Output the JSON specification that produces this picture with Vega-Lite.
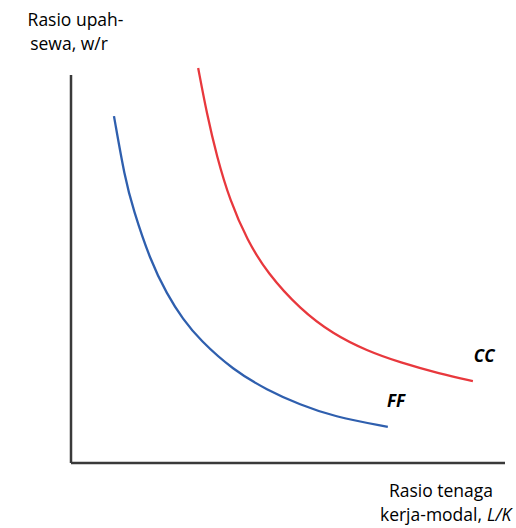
{
  "$schema": "https://vega.github.io/schema/vega-lite/v6.json",
  "width": 434,
  "height": 388,
  "autosize": {"type": "none"},
  "padding": {"left": 71, "top": 75, "right": 11, "bottom": 65},
  "background": "white",
  "config": {"view": {"stroke": null}, "text": {"font": "Open Sans"}},
  "layer": [
    {
      "data": {"values": [
        {"x": 0, "y": 0, "x2": 0, "y2": 10},
        {"x": 0, "y": 0, "x2": 10, "y2": 0}
      ]},
      "mark": {"type": "rule", "color": "#3a3a3a", "strokeWidth": 2.5},
      "encoding": {
        "x": {"field": "x", "type": "quantitative", "scale": {"domain": [0, 10]}, "axis": null},
        "y": {"field": "y", "type": "quantitative", "scale": {"domain": [0, 10]}, "axis": null},
        "x2": {"field": "x2"},
        "y2": {"field": "y2"}
      }
    },
    {
      "data": {"values": [
        {"curve": "FF", "i": 0, "x": 0.99, "y": 8.94},
        {"curve": "FF", "i": 1, "x": 1.24, "y": 7.35},
        {"curve": "FF", "i": 2, "x": 1.43, "y": 6.55},
        {"curve": "FF", "i": 3, "x": 1.82, "y": 5.24},
        {"curve": "FF", "i": 4, "x": 2.21, "y": 4.35},
        {"curve": "FF", "i": 5, "x": 2.58, "y": 3.70},
        {"curve": "FF", "i": 6, "x": 2.97, "y": 3.17},
        {"curve": "FF", "i": 7, "x": 3.73, "y": 2.40},
        {"curve": "FF", "i": 8, "x": 4.52, "y": 1.88},
        {"curve": "FF", "i": 9, "x": 5.28, "y": 1.50},
        {"curve": "FF", "i": 10, "x": 6.04, "y": 1.20},
        {"curve": "FF", "i": 11, "x": 7.30, "y": 0.93},
        {"curve": "CC", "i": 0, "x": 2.93, "y": 10.18},
        {"curve": "CC", "i": 1, "x": 3.13, "y": 9.00},
        {"curve": "CC", "i": 2, "x": 3.36, "y": 7.90},
        {"curve": "CC", "i": 3, "x": 3.66, "y": 6.77},
        {"curve": "CC", "i": 4, "x": 4.06, "y": 5.74},
        {"curve": "CC", "i": 5, "x": 4.52, "y": 4.90},
        {"curve": "CC", "i": 6, "x": 5.28, "y": 3.96},
        {"curve": "CC", "i": 7, "x": 6.04, "y": 3.32},
        {"curve": "CC", "i": 8, "x": 6.82, "y": 2.89},
        {"curve": "CC", "i": 9, "x": 7.58, "y": 2.59},
        {"curve": "CC", "i": 10, "x": 8.50, "y": 2.30},
        {"curve": "CC", "i": 11, "x": 9.26, "y": 2.11}
      ]},
      "mark": {"type": "line", "interpolate": "basis", "strokeWidth": 2.3},
      "encoding": {
        "x": {"field": "x", "type": "quantitative"},
        "y": {"field": "y", "type": "quantitative"},
        "order": {"field": "i", "type": "quantitative"},
        "detail": {"field": "curve"},
        "color": {"field": "curve", "type": "nominal", "scale": {"domain": ["FF", "CC"], "range": ["#2f5fae", "#e8383d"]}, "legend": null}
      }
    },
    {
      "data": {"values": [
        {"label": "CC", "x": 9.52, "y": 2.60},
        {"label": "FF", "x": 7.49, "y": 1.44}
      ]},
      "mark": {"type": "text", "fontWeight": "bold", "fontStyle": "italic", "fontSize": 17, "baseline": "alphabetic", "align": "center", "color": "black"},
      "encoding": {
        "x": {"field": "x", "type": "quantitative"},
        "y": {"field": "y", "type": "quantitative"},
        "text": {"field": "label"}
      }
    },
    {
      "data": {"values": [
        {"label": "Rasio upah-", "x": 0.104, "y": 11.263},
        {"label": "sewa, w/r", "x": -0.046, "y": 10.644},
        {"label": "Rasio tenaga", "x": 8.525, "y": -0.876}
      ]},
      "mark": {"type": "text", "fontSize": 17.5, "baseline": "alphabetic", "align": "center", "color": "black"},
      "encoding": {
        "x": {"field": "x", "type": "quantitative"},
        "y": {"field": "y", "type": "quantitative"},
        "text": {"field": "label"}
      }
    },
    {
      "data": {"values": [
        {"label": "kerja-modal,", "x": 9.47, "y": -1.495}
      ]},
      "mark": {"type": "text", "fontSize": 17.5, "baseline": "alphabetic", "align": "right", "color": "black"},
      "encoding": {
        "x": {"field": "x", "type": "quantitative"},
        "y": {"field": "y", "type": "quantitative"},
        "text": {"field": "label"}
      }
    },
    {
      "data": {"values": [
        {"label": "L/K", "x": 9.585, "y": -1.495}
      ]},
      "mark": {"type": "text", "fontSize": 17.5, "fontStyle": "italic", "baseline": "alphabetic", "align": "left", "color": "black"},
      "encoding": {
        "x": {"field": "x", "type": "quantitative"},
        "y": {"field": "y", "type": "quantitative"},
        "text": {"field": "label"}
      }
    }
  ]
}
